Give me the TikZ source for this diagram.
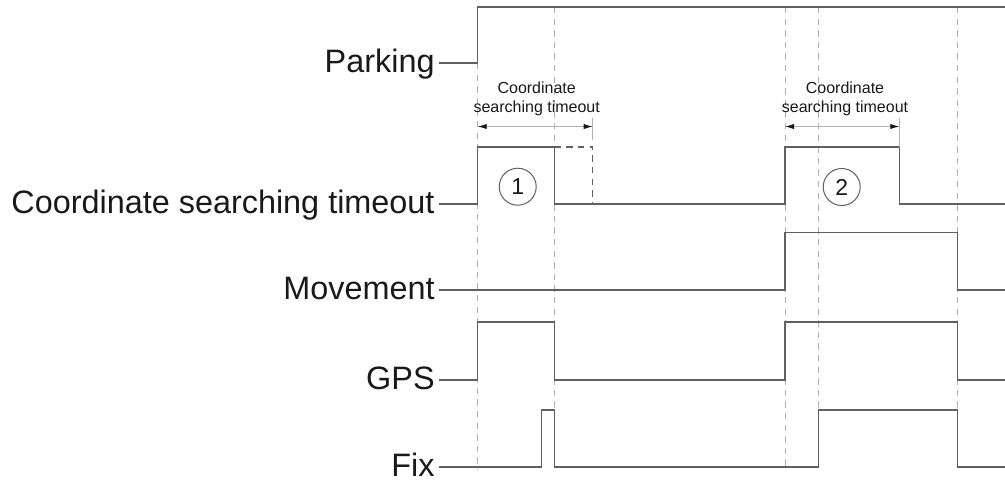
\documentclass[tikz,border=0pt]{standalone}
\usepackage{fontspec}
\setmainfont{Liberation Sans}
\usepackage{tikz}
\usetikzlibrary{arrows.meta, positioning}
\definecolor{mywave}{RGB}{96,96,96}
\definecolor{myguide}{RGB}{178,178,178}
\definecolor{mytext}{RGB}{25,25,25}
\tikzset{
  siglabel/.style={anchor=east, inner xsep=2pt, inner ysep=0pt, text=mytext,
    text height=9.5pt, text depth=0pt,
    font=\fontsize{16.2}{19}\selectfont},
  wave/.style={line width=0.65pt, color=mywave},
  guide/.style={line width=0.5pt, color=myguide, dash pattern=on 3.2pt off 2.6pt},
  extline/.style={line width=0.4pt, color=myguide},
  dimarrow/.style={{Latex[length=4.5pt,width=2.6pt,color=mytext]}-{Latex[length=4.5pt,width=2.6pt,color=mytext]},
    line width=0.4pt, color=myguide},
  dimtext/.style={align=center, text=mytext, inner sep=0pt,
    font=\fontsize{8}{9.5}\selectfont},
  phase/.style={circle, draw=mywave, line width=0.5pt, minimum size=18.5pt,
    inner sep=0pt, text=mytext, font=\fontsize{11.5}{13}\selectfont}
}

\begin{document}
\begin{tikzpicture}[x=0.5pt, y=-0.5pt]
  \useasboundingbox (0,0) rectangle (1005,479);

  % signal names
  \node[siglabel] (parking) at (439,63) {Parking};
  \node[siglabel] (cst) at (439,204) {Coordinate searching timeout};
  \node[siglabel] (movement) at (439,290) {Movement};
  \node[siglabel] (gps) at (439,380) {GPS};
  \node[siglabel] (fix) at (439,467) {Fix};

  % time marks
  \draw[guide] (477.7,63) -- (477.7,470);
  \foreach \t in {554.7, 785, 818.7, 957.7}
    \draw[guide] (\t,7) -- (\t,470);

  % waveforms
  \draw[wave] (parking.east) -| (477.7,7) -- (1005,7);
  \draw[wave] (cst.east) -| (477.7,147) -| (554.7,204) -| (785,147) -| (899.3,204) -- (1005,204);
  \draw[wave, dash pattern=on 3.2pt off 2.6pt] (554.7,147) -| (592.7,204);
  \draw[wave] (movement.east) -| (785,232.7) -| (957.7,290) -- (1005,290);
  \draw[wave] (gps.east) -| (477.7,322) -| (554.7,380) -| (785,322) -| (957.7,380) -- (1005,380);
  \draw[wave] (fix.east) -| (541.7,410) -| (554.7,467) -| (818.7,410) -| (957.7,467) -- (1005,467);

  % timeout spans
  \draw[extline] (592.7,118) -- (592.7,140);
  \draw[extline] (899.3,118) -- (899.3,147);
  \draw[dimarrow] (477.7,126.5) -- (592.7,126.5);
  \draw[dimarrow] (785,126.5) -- (899.3,126.5);
  \node[dimtext] (span1) at (536.7,99) {Coordinate\\searching timeout};
  \node[dimtext] (span2) at (845,99) {Coordinate\\searching timeout};

  \node[phase] (one) at (517.7,186.7) {1};
  \node[phase] (two) at (841.7,187) {2};
\end{tikzpicture}
\end{document}
